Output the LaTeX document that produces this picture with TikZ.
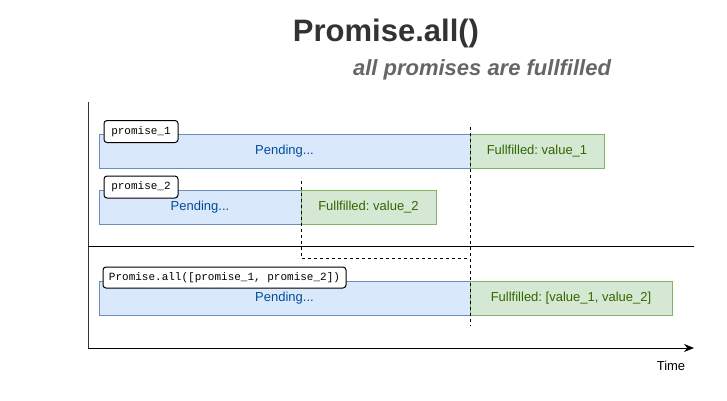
\documentclass[tikz,border=0pt]{standalone}
\usepackage{fontspec}
\setmainfont{Liberation Sans}
\newfontfamily\monofont{Liberation Mono}
\usetikzlibrary{arrows.meta}
\frenchspacing
\definecolor{pendfill}{HTML}{DAE8FC}
\definecolor{pendline}{HTML}{6C8EBF}
\definecolor{pendtext}{HTML}{004C99}
\definecolor{fulfill}{HTML}{D5E8D4}
\definecolor{fulline}{HTML}{82B366}
\definecolor{fultext}{HTML}{336600}
\definecolor{titlecol}{HTML}{333333}
\definecolor{subcol}{HTML}{666666}
\tikzset{
  pendbar/.style={draw=pendline, fill=pendfill, text=pendtext, line width=1pt, inner sep=0pt, minimum height=34pt, font=\fontsize{13}{15}\selectfont},
  fulbar/.style={draw=fulline, fill=fulfill, text=fultext, line width=1pt, inner sep=0pt, minimum height=34pt, font=\fontsize{13}{15}\selectfont},
  tag/.style={draw=black, fill=white, rounded corners=3pt, line width=1pt, inner sep=0pt, font=\monofont\fontsize{11}{13}\selectfont},
  guide/.style={dashed, line width=1pt, dash pattern=on 3pt off 3pt},
  axis/.style={line width=1pt, draw=black}
}
\begin{document}
\begin{tikzpicture}[x=1pt,y=-1pt]
\useasboundingbox (0,0) rectangle (727,400);
% titles
\node[font=\bfseries\fontsize{31}{36}\selectfont, text=titlecol] (title) at (386,33) {Promise.all()};
\node[font=\bfseries\itshape\fontsize{22}{26}\selectfont, text=subcol] (subtitle) at (482,70) {all promises are fullfilled};
% axes
\coordinate (ytop) at (88,102);
\coordinate (orig) at (88,348);
\coordinate (xend) at (694,348);
\coordinate (sepl) at (88,246);
\coordinate (sepr) at (694,246);
\draw[axis, draw=titlecol] (ytop) -- (orig);
\draw[axis, -{Stealth[length=10pt,width=8pt]}] (orig) -- (xend);
\draw[axis] (sepl) -- (sepr);
\node[font=\fontsize{13}{15}\selectfont] (time) at (671,366) {Time};
% promise 1
\node[pendbar, minimum width=371pt] (p1pend) at (284.5,151.5) {Pending...};
\node[fulbar, minimum width=134pt] (p1ful) at (537,151.5) {Fullfilled: value\_1};
\node[tag, minimum width=74pt, minimum height=22pt] (lab1) at (141,131.5) {promise\_1};
% promise 2
\node[pendbar, minimum width=202pt] (p2pend) at (200,207.5) {Pending...};
\node[fulbar, minimum width=135pt] (p2ful) at (368.5,207.5) {Fullfilled: value\_2};
\node[tag, minimum width=74pt, minimum height=22pt] (lab2) at (141,187) {promise\_2};
% promise all
\node[pendbar, minimum width=371pt] (allpend) at (284.5,298) {Pending...};
\node[fulbar, minimum width=202pt] (allful) at (571,298) {Fullfilled: [value\_1, value\_2]};
\node[tag, minimum width=243pt, minimum height=21pt] (lab3) at (224.5,277.5) {Promise.all([promise\_1, promise\_2])};
% guides
\coordinate (g1top) at (470,127);
\coordinate (g1bot) at (470,326);
\coordinate (g2top) at (301,181);
\coordinate (g2bot) at (301,258);
\coordinate (g2end) at (470,258);
\draw[guide] (g1top) -- (g1bot);
\draw[guide] (g2top) -- (g2bot) -- (g2end);
\end{tikzpicture}
\end{document}
